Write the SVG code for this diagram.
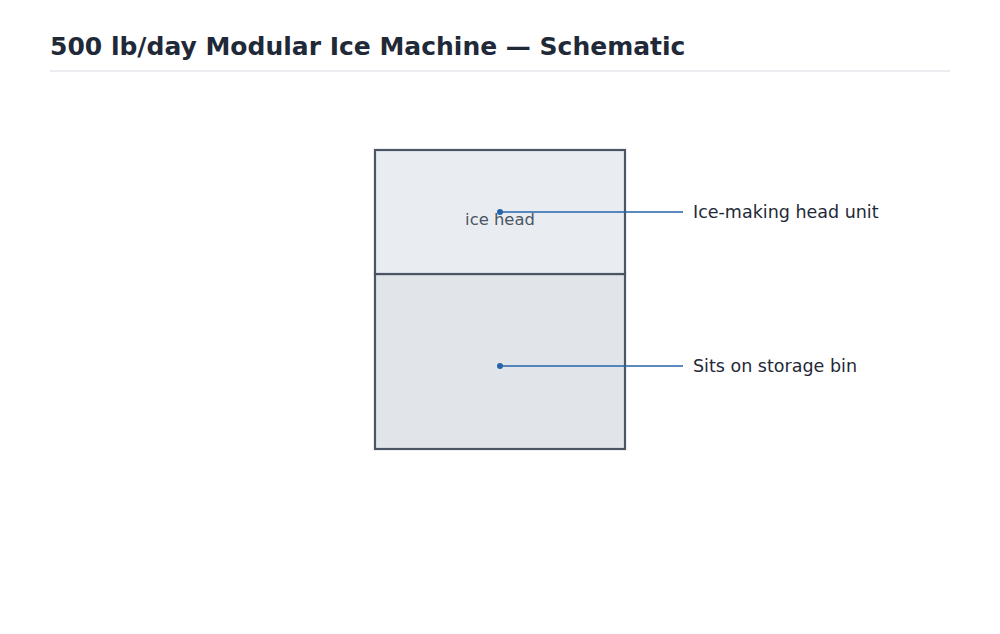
<svg xmlns="http://www.w3.org/2000/svg" width="1000" height="634" viewBox="0 0 1000 634">
<style>
.title{font-family:"DejaVu Sans",sans-serif;font-size:25px;font-weight:bold;fill:#1f2937}
.box{stroke:#4b5563;stroke-width:2.2}
.inner{font-family:"DejaVu Sans",sans-serif;font-size:16.4px;fill:#4b5563;text-anchor:middle}
.lbl{font-family:"DejaVu Sans",sans-serif;font-size:17.5px;fill:#1f2937}
.lead{stroke:#2563aa;stroke-width:1.5;fill:none}
.dot{fill:#2563aa}
</style>
<rect width="1000" height="634" fill="#ffffff"/>
<text class="title" x="50" y="55">500 lb/day Modular Ice Machine — Schematic</text>
<line x1="50" y1="71" x2="950" y2="71" stroke="#e5e7eb" stroke-width="1.5"/>
<g id="bin">
<rect class="box" x="375" y="274" width="250" height="175" fill="#e1e5ea"/>
</g>
<g id="head">
<rect class="box" x="375" y="150" width="250" height="124" fill="#e9edf1"/>
<text class="inner" x="500" y="225">ice head</text>
</g>
<g id="connectors">
<line class="lead" x1="500" y1="212" x2="683" y2="212"/>
<circle class="dot" cx="500" cy="212" r="3"/>
<line class="lead" x1="500" y1="366" x2="683" y2="366"/>
<circle class="dot" cx="500" cy="366" r="3"/>
</g>
<g id="labels">
<text class="lbl" x="693" y="218">Ice-making head unit</text>
<text class="lbl" x="693" y="372">Sits on storage bin</text>
</g>
</svg>
